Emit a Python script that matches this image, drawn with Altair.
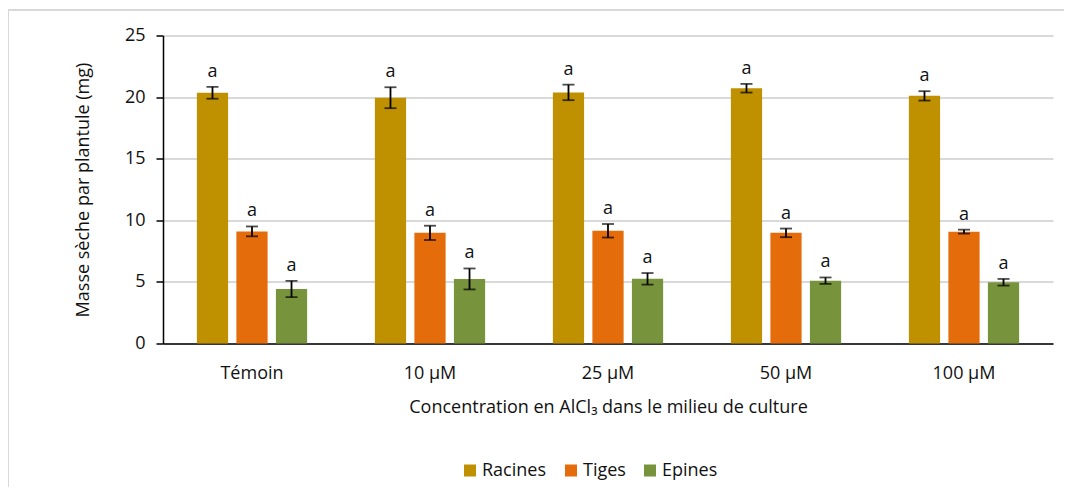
import altair as alt
import pandas as pd

categories = ["Témoin", "10 µM", "25 µM", "50 µM", "100 µM"]
organs = ["Racines", "Tiges", "Epines"]
colors = ["#BF9000", "#E46C0A", "#77933C"]

racines = [20.35, 19.95, 20.38, 20.72, 20.1]
racines_err = [0.48, 0.85, 0.63, 0.35, 0.38]
tiges = [9.1, 8.98, 9.15, 8.98, 9.08]
tiges_err = [0.4, 0.58, 0.55, 0.35, 0.16]
epines = [4.42, 5.24, 5.25, 5.1, 4.97]
epines_err = [0.66, 0.85, 0.47, 0.26, 0.27]
letters = ["a", "a", "a", "a", "a"]

rows = []
for organ, vals, errs in [("Racines", racines, racines_err),
                          ("Tiges", tiges, tiges_err),
                          ("Epines", epines, epines_err)]:
    for c, v, e, l in zip(categories, vals, errs, letters):
        rows.append({"cat": c, "organ": organ, "mean": v, "lo": v - e, "hi": v + e, "letter": l})
df = pd.DataFrame(rows)

xenc = alt.X("cat:N", sort=categories, title="Concentration en AlCl₃ dans le milieu de culture",
             scale=alt.Scale(type="band", paddingInner=0.334, paddingOuter=0.167),
             axis=alt.Axis(labelAngle=0, ticks=False, domainColor="#000000", domainWidth=1.5,
                           labelPadding=21, titlePadding=16, grid=False))
xoff = alt.XOffset("organ:N", sort=organs,
                   scale=alt.Scale(paddingInner=0.21, paddingOuter=0.105))

base = alt.Chart(df).encode(x=xenc, xOffset=xoff)

bars = base.mark_bar().encode(
    y=alt.Y("mean:Q", title="Masse sèche par plantule (mg)",
            scale=alt.Scale(domain=[0, 25], nice=False, padding=0),
            axis=alt.Axis(values=[0, 5, 10, 15, 20, 25], tickSize=7, tickColor="#000000",
                          tickWidth=1.5, domainColor="#000000", domainWidth=1.5,
                          gridColor="#cccccc", gridWidth=1.5, labelPadding=11,
                          titlePadding=32)),
    color=alt.Color("organ:N", sort=organs,
                    scale=alt.Scale(domain=organs, range=colors),
                    legend=alt.Legend(title=None, orient="none", legendX=298, legendY=426,
                                      direction="horizontal", symbolType="square",
                                      symbolSize=144, symbolStrokeWidth=0,
                                      labelFontSize=18, columnPadding=15, labelOffset=3,
                                      labelColor="#111111")),
)

rule = base.mark_rule(color="#000000", strokeWidth=1.8).encode(
    y=alt.Y("lo:Q"), y2="hi:Q")
cap_lo = base.mark_tick(color="#000000", size=12, thickness=1.8, orient="horizontal").encode(
    y=alt.Y("lo:Q"))
cap_hi = base.mark_tick(color="#000000", size=12, thickness=1.8, orient="horizontal").encode(
    y=alt.Y("hi:Q"))
text = base.mark_text(baseline="alphabetic", dy=-10, fontSize=18, color="#111111").encode(
    y=alt.Y("hi:Q"), text="letter:N")

frame = alt.Chart(df).mark_rect(filled=False, stroke="#d9d9d9", strokeWidth=1.5).encode(
    x=alt.value(-155), x2=alt.value(1000), y=alt.value(-25.5), y2=alt.value(600))

chart = alt.layer(frame, bars, rule, cap_lo, cap_hi, text).properties(
    width=890, height=308,
    autosize=alt.AutoSizeParams(type="none"),
    padding={"left": 155, "top": 27.5, "right": 11, "bottom": 143.5},
).configure(font="Open Sans").configure_view(strokeWidth=0).configure_axis(
    labelFontSize=18, titleFontSize=18, labelColor="#111111", titleColor="#111111",
    titleFontWeight="normal", labelFont="Open Sans", titleFont="Open Sans"
).configure_legend(labelFont="Open Sans")

chart.save("out.html", embed_options={"renderer": "svg", "actions": False})
